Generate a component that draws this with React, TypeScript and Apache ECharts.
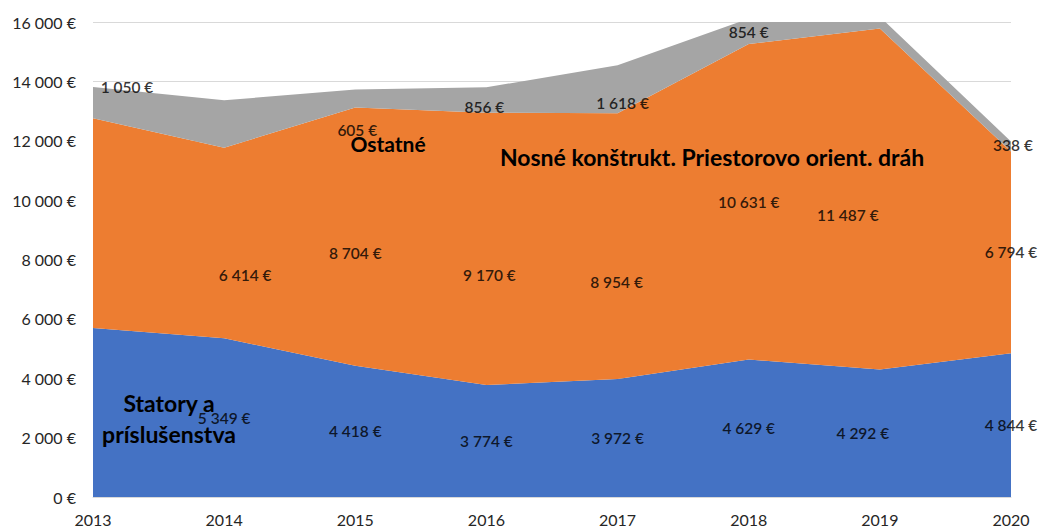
import React, { useEffect, useRef } from "react";
import * as echarts from "echarts";

const years = ["2013", "2014", "2015", "2016", "2017", "2018", "2019", "2020"];
const seriesNames = ["Statory a príslušenstva", "Nosné konštrukt. Priestorovo orient. dráh", "Ostatné"];
const statory = [5690, 5349, 4418, 3774, 3972, 4629, 4292, 4844];
const nosne = [7070, 6414, 8704, 9170, 8954, 10631, 11487, 6794];
const ostatne = [1050, 1600, 605, 856, 1618, 854, 400, 338];
const statoryLabelShown = [false, true, true, true, true, true, true, true];
const nosneLabelShown = [false, true, true, true, true, true, true, true];
const ostatneLabelShown = [true, false, true, true, true, true, false, true];
const yMax = 16000;
const yStep = 2000;

// label pixel shifts (layout only)
const statoryShift = [[0, 0], [0, 0], [0, 0], [0, 0], [0, 0], [0, 0], [-17, 0], [0, 0]];
const nosneShift = [[0, 0], [21, 32], [0, 16], [3, 26], [-1, 36], [0, 0], [-32, 16], [0, 0]];
const ostatneShift = [[34, -16], [0, 0], [2, 32], [-2, 7], [5, 14], [0, 1], [0, 0], [2, -1]];

const COLORS = ["#4472C4", "#ED7D31", "#A5A5A5"];
const FONT = "Lato, 'Open Sans', sans-serif";

function fmt(v: number): string {
  const s = Math.round(v).toString().replace(/\B(?=(\d{3})+(?!\d))/g, " ");
  return s + " €";
}

export default function App() {
  const ref = useRef<HTMLDivElement>(null);
  useEffect(() => {
    document.body.style.margin = "0";
    if (!ref.current) return;
    const chart = echarts.init(ref.current, undefined, { renderer: "svg" });

    const layers = [statory, nosne, ostatne];
    const shown = [statoryLabelShown, nosneLabelShown, ostatneLabelShown];
    const shifts = [statoryShift, nosneShift, ostatneShift];

    const labelSeries = layers.map((arr, k) => {
      const data: any[] = [];
      arr.forEach((v, i) => {
        if (!shown[k][i]) return;
        let base = 0;
        for (let j = 0; j < k; j++) base += layers[j][i];
        data.push({
          value: [i, base + v / 2],
          raw: v,
          label: { offset: shifts[k][i] },
        });
      });
      return {
        type: "scatter",
        name: "lbl" + k,
        symbolSize: 0,
        z: 5,
        silent: true,
        data,
        label: {
          show: true,
          position: "inside",
          color: "#000",
          fontFamily: FONT,
          fontSize: 15.5,
          fontWeight: 600,
          formatter: (p: any) => fmt(p.data.raw),
        },
      };
    });

    const areaSeries = layers.map((arr, k) => ({
      type: "line",
      name: seriesNames[k],
      stack: "total",
      data: arr,
      symbol: "none",
      lineStyle: { width: 0 },
      areaStyle: { color: COLORS[k], opacity: 1 },
      itemStyle: { color: COLORS[k] },
      z: 2,
    }));

    const bigFont = `bold 23px ${FONT}`;
    chart.setOption({
      animation: false,
      grid: { left: 93, right: 32, top: 22, bottom: 31, outerBoundsMode: "none" },
      xAxis: {
        type: "category",
        data: years,
        boundaryGap: false,
        axisLine: { show: true, lineStyle: { color: "#d9d9d9" } },
        axisTick: { show: false },
        axisLabel: { color: "#262626", fontFamily: FONT, fontSize: 16, margin: 14 },
      },
      yAxis: {
        type: "value",
        min: 0,
        max: yMax,
        interval: yStep,
        axisLine: { show: false },
        axisTick: { show: false },
        splitLine: { lineStyle: { color: "#d9d9d9" } },
        axisLabel: { color: "#262626", fontFamily: FONT, fontSize: 16, margin: 17, formatter: (v: number) => fmt(v) },
      },
      series: [...areaSeries, ...labelSeries],
      graphic: [
        {
          type: "text",
          x: 169,
          y: 418,
          z: 10,
          style: {
            text: "Statory a\npríslušenstva",
            font: bigFont,
            fill: "#000",
            align: "center",
            verticalAlign: "middle",
            lineHeight: 31,
          },
        },
        {
          type: "text",
          x: 388,
          y: 143,
          z: 10,
          style: { text: seriesNames[2], font: `bold 21px ${FONT}`, fill: "#000", align: "center", verticalAlign: "middle" },
        },
        {
          type: "text",
          x: 712,
          y: 157,
          z: 10,
          style: { text: seriesNames[1], font: bigFont, fill: "#000", align: "center", verticalAlign: "middle" },
        },
      ],
    });
    return () => chart.dispose();
  }, []);
  return <div ref={ref} style={{ width: 1043, height: 528 }} />;
}
